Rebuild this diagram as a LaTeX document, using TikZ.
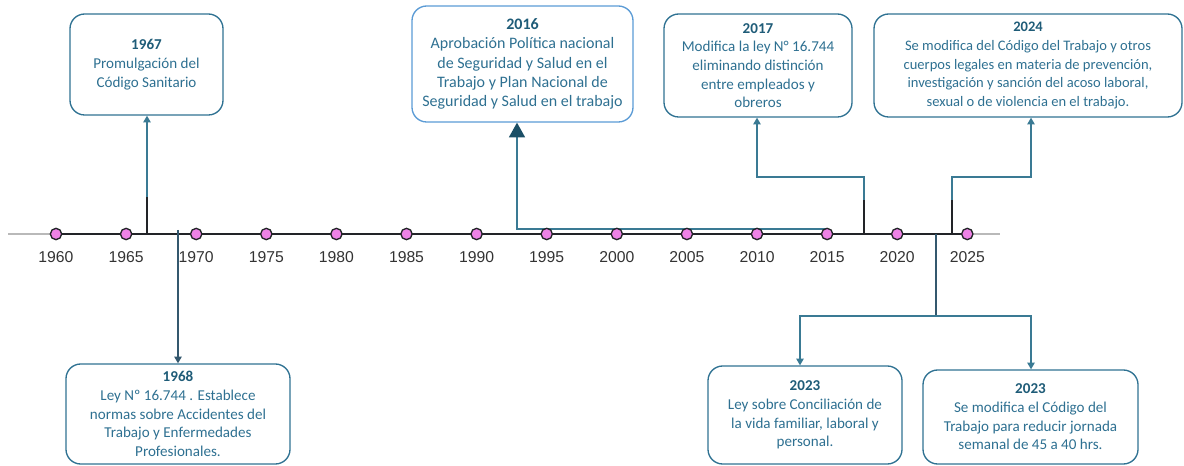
\documentclass[tikz,border=0pt]{standalone}
\usepackage{fontspec}
\setmainfont{Carlito}
\newfontfamily\axisfont{Liberation Sans}
\usetikzlibrary{arrows.meta}
\definecolor{boxc}{HTML}{2F7292}
\definecolor{txtc}{HTML}{2E7091}
\definecolor{yearc}{HTML}{1F5C78}
\definecolor{lightb}{HTML}{5B9BD5}
\definecolor{dotc}{HTML}{EE82E6}
\definecolor{axisc}{HTML}{222428}
\definecolor{linec}{HTML}{3A7A94}
\definecolor{darkconn}{HTML}{34586E}
\definecolor{arrowdark}{HTML}{1B4F66}
\begin{document}
\begin{tikzpicture}[x=0.75pt,y=-0.75pt,
  evbox/.style={draw=boxc, line width=1pt, rounded corners=11pt, align=center,
    text=txtc, inner sep=2pt, font=\fontsize{11.3}{14}\selectfont},
  dot/.style={circle, draw=axisc, fill=dotc, line width=1pt, minimum size=8.5pt, inner sep=0pt},
  yearlab/.style={font=\axisfont\fontsize{11.8}{13}\selectfont, text=black!80},
  conn/.style={draw=linec, line width=1pt},
  arr/.style={conn, -{Triangle[width=5.5pt,length=5pt]}},
  darkseg/.style={draw=axisc, line width=1.1pt},
]
\useasboundingbox (0,0) rectangle (1184,466);

% event boxes
\node[evbox, minimum width=114.75pt, minimum height=75.75pt] (b1967) at (146.5,64.5)
  {{\bfseries\color{yearc}1967}\\Promulgación del\\Código Sanitario};
\node[evbox, draw=lightb, minimum width=165.75pt, minimum height=87pt,
  font=\fontsize{12}{14.5}\selectfont] (b2016) at (522.5,64)
  {{\bfseries\color{yearc}2016}\\Aprobación Política nacional\\de Seguridad y Salud en el\\Trabajo y Plan Nacional de\\Seguridad y Salud en el trabajo};
\node[evbox, minimum width=141pt, minimum height=77.25pt] (b2017) at (758,65.5)
  {{\bfseries\color{yearc}2017}\\Modifica la ley N° 16.744\\eliminando distinción\\entre empleados y\\obreros};
\node[evbox, minimum width=231pt, minimum height=77.25pt,
  font=\fontsize{10.9}{14}\selectfont] (b2024) at (1028,65.5)
  {{\bfseries\color{yearc}2024}\\Se modifica del Código del Trabajo y otros\\cuerpos legales en materia de prevención,\\investigación y sanción del acoso laboral,\\sexual o de violencia en el trabajo.};
\node[evbox, minimum width=168pt, minimum height=75pt] (b1968) at (178,414)
  {{\bfseries\color{yearc}1968}\\Ley Nº 16.744 . Establece\\normas sobre Accidentes del\\Trabajo y Enfermedades\\Profesionales.};
\node[evbox, minimum width=145.5pt, minimum height=73.5pt] (b2023a) at (805,415)
  {{\bfseries\color{yearc}2023}\\Ley sobre Conciliación de\\la vida familiar, laboral y\\personal.};
\node[evbox, minimum width=161.25pt, minimum height=70.5pt] (b2023b) at (1030.5,417)
  {{\bfseries\color{yearc}2023}\\Se modifica el Código del\\Trabajo para reducir jornada\\semanal de 45 a 40 hrs.};

% axis
\coordinate (axL) at (8,234);
\coordinate (axA) at (56,234);
\coordinate (axB) at (967,234);
\coordinate (axR) at (1000,234);
\draw[gray!55, line width=1.3pt] (axL) -- (axA);
\draw[gray!55, line width=1.3pt] (axB) -- (axR);
\draw[axisc, line width=2.2pt] (axA) -- (axB);

% 2016 connector (drawn before dots)
\coordinate (c16a) at (827,229);
\coordinate (c16b) at (517,229);
\draw[conn, -{Triangle[width=12pt,length=11pt,color=arrowdark]}] (c16a) -- (c16b) -- (c16b |- b2016.south);

% dots and year labels
\foreach \y [count=\i from 0] in {1960,1965,1970,1975,1980,1985,1990,1995,2000,2005,2010,2015,2020,2025} {
  \node[dot] (d\y) at (56+70.1*\i,234) {};
  \node[yearlab] (l\y) at (56+70.1*\i,257) {\y};
}

% 1967
\coordinate (c67a) at (147,234);
\coordinate (c67b) at (147,197);
\draw[darkseg] (c67a) -- (c67b);
\draw[arr] (c67b) -- (c67b |- b1967.south);

% 1968
\coordinate (c68) at (178,230);
\draw[arr, draw=darkconn] (c68) -- (c68 |- b1968.north);

% 2017
\coordinate (c17a) at (864,234);
\coordinate (c17b) at (864,200);
\coordinate (c17c) at (864,177);
\coordinate (c17d) at (757,177);
\draw[darkseg] (c17a) -- (c17b);
\draw[arr] (c17b) -- (c17c) -- (c17d) -- (c17d |- b2017.south);

% 2024
\coordinate (c24a) at (952,234);
\coordinate (c24b) at (952,200);
\coordinate (c24c) at (952,177);
\coordinate (c24d) at (1031,177);
\draw[darkseg] (c24a) -- (c24b);
\draw[arr] (c24b) -- (c24c) -- (c24d) -- (c24d |- b2024.south);

% 2023
\coordinate (c23a) at (936,234);
\coordinate (c23b) at (936,316);
\coordinate (c23l) at (800,316);
\coordinate (c23r) at (1031,316);
\draw[conn, draw=darkconn] (c23a) -- (c23b);
\draw[arr] (c23b) -- (c23l) -- (c23l |- b2023a.north);
\draw[arr] (c23b) -- (c23r) -- (c23r |- b2023b.north);
\end{tikzpicture}
\end{document}
